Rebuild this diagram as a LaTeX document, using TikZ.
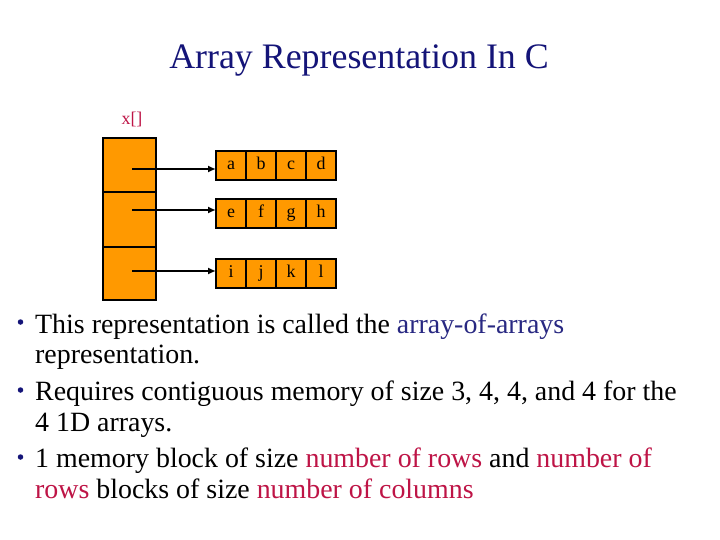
\documentclass[tikz,border=0pt]{standalone}
\usepackage{fontspec}
\setmainfont{Liberation Serif}
\usetikzlibrary{arrows.meta}
\definecolor{titleblue}{RGB}{20,20,120}
\definecolor{termblue}{RGB}{40,40,130}
\definecolor{termred}{RGB}{190,20,70}
\definecolor{cellorange}{RGB}{255,153,0}
\begin{document}
\begin{tikzpicture}[x=1bp,y=-1bp,
  cell/.style={draw=black,line width=2.4bp,fill=cellorange},
  letter/.style={font=\fontsize{18}{18}\selectfont,anchor=base},
  ptr/.style={line width=2.8bp,-{Latex[length=8bp,width=7bp]}},
  body/.style={font=\fontsize{28}{28}\selectfont,anchor=base west,inner sep=0},
  bul/.style={fill=titleblue,circle,inner sep=0,minimum size=5.5bp}]
\useasboundingbox (0,0) rectangle (720,540);
\fill[white] (0,0) rectangle (720,540);
% title
\node[font=\fontsize{36}{36}\selectfont,text=titleblue,anchor=base,inner sep=0] (title) at (359,69) {Array Representation In C};
\node[font=\fontsize{18}{18}\selectfont,text=termred,anchor=base,inner sep=0] (xlab) at (132,125) {x[]};
% pointer column
\foreach \i/\ya/\yb in {1/138/192,2/192/247,3/247/300}{
  \draw[cell] (103,\ya) rectangle (156,\yb);
}
% row arrays
\foreach \r/\ya/\yb/\la/\lb/\lc/\ld in {1/151/180/a/b/c/d,2/199/228/e/f/g/h,3/259/288/i/j/k/l}{
  \foreach \c/\xa/\l in {0/216/\la,1/246/\lb,2/276/\lc,3/306/\ld}{
    \draw[cell] (\xa,\ya) rectangle ++(30,\yb-\ya);
    \node[letter] (c\r\c) at (\xa+15,\ya+18.5) {\l};
  }
}
\coordinate (p1) at (132,169);
\coordinate (p2) at (132,210);
\coordinate (p3) at (132,271);
\coordinate (row1) at (216,169);
\coordinate (row2) at (216,210);
\coordinate (row3) at (216,271);
\draw[ptr] (p1) -- (row1);
\draw[ptr] (p2) -- (row2);
\draw[ptr] (p3) -- (row3);
% bullets
\node[bul] (b1) at (20.5,322) {};
\node[bul] (b2) at (20.5,390) {};
\node[bul] (b3) at (20.5,457) {};
\node[body] (t1) at (35,333) {This representation is called the \textcolor{termblue}{array-of-arrays}};
\node[body] (t2) at (35,363) {representation.};
\node[body] (t3) at (35,400) {Requires contiguous memory of size 3, 4, 4, and 4 for the};
\node[body] (t4) at (35,431) {4 1D arrays.};
\node[body] (t5) at (35,467) {1 memory block of size \textcolor{termred}{number of rows} and \textcolor{termred}{number of}};
\node[body] (t6) at (35,498) {\textcolor{termred}{rows} blocks of size \textcolor{termred}{number of columns}};
\end{tikzpicture}
\end{document}
